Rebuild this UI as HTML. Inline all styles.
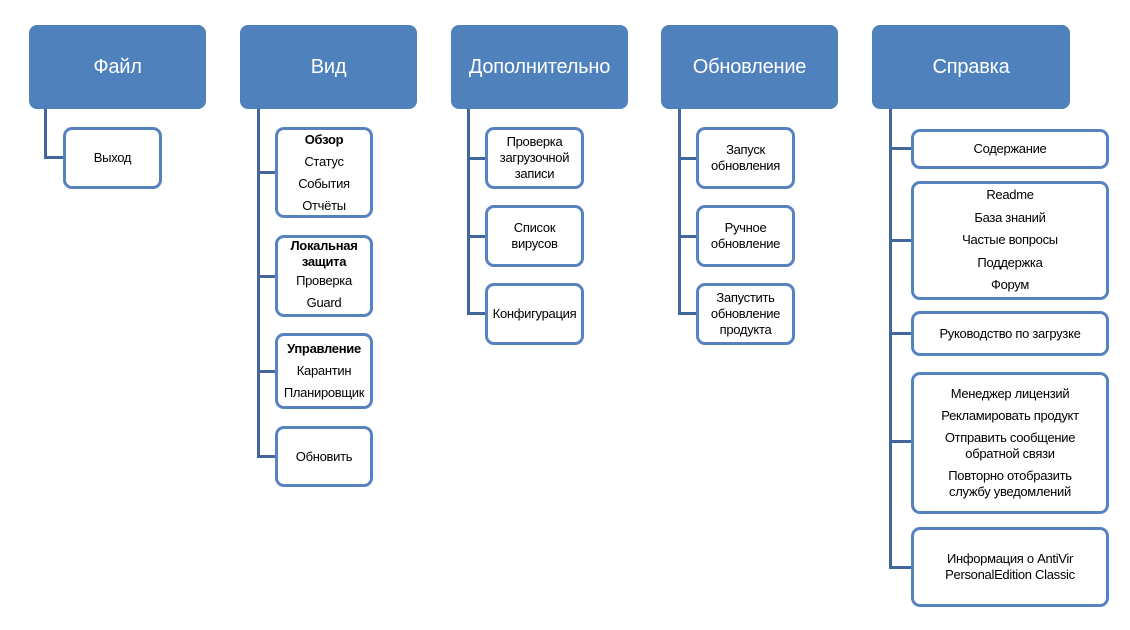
<!DOCTYPE html>
<html><head><meta charset="utf-8"><style>
body{margin:0;width:1130px;height:630px;background:#fff;position:relative;overflow:hidden;font-family:"Liberation Sans","DejaVu Sans",sans-serif;}
.h{position:absolute;top:25px;height:84px;background:#4F81BD;border-radius:8px;color:#fff;font-size:20px;display:flex;align-items:center;justify-content:center;letter-spacing:-0.2px}
.b{position:absolute;box-sizing:border-box;border:3px solid #5683C0;border-radius:9px;background:#fff;display:flex;flex-direction:column;align-items:center;justify-content:center;text-align:center;font-size:13px;color:#000;letter-spacing:-0.3px;line-height:16px}
.b p{margin:3px 0}
.l{position:absolute;background:#41679C}
b{font-weight:bold}
</style></head><body>
<div class="h" style="left:29px;width:177px">Файл</div>
<div class="h" style="left:240px;width:177px">Вид</div>
<div class="h" style="left:451px;width:177px">Дополнительно</div>
<div class="h" style="left:661px;width:177px">Обновление</div>
<div class="h" style="left:872px;width:198px">Справка</div>

<div class="l" style="left:44px;top:109px;width:3px;height:50px"></div>
<div class="l" style="left:44px;top:156px;width:20px;height:3px"></div>
<div class="b" style="left:63px;top:127px;width:99px;height:62px">Выход</div>

<div class="l" style="left:257px;top:109px;width:3px;height:349px"></div>
<div class="l" style="left:257px;top:171px;width:20px;height:3px"></div>
<div class="l" style="left:257px;top:275px;width:20px;height:3px"></div>
<div class="l" style="left:257px;top:370px;width:20px;height:3px"></div>
<div class="l" style="left:257px;top:455px;width:20px;height:3px"></div>
<div class="b" style="left:275px;top:127px;width:98px;height:91px;line-height:22px"><b>Обзор</b>Статус<br>События<br>Отчёты</div>
<div class="b" style="left:275px;top:235px;width:98px;height:82px"><b>Локальная<br>защита</b><span style="line-height:22px">Проверка<br>Guard</span></div>
<div class="b" style="left:275px;top:333px;width:98px;height:76px;line-height:22px"><b>Управление</b>Карантин<br>Планировщик</div>
<div class="b" style="left:275px;top:426px;width:98px;height:61px">Обновить</div>

<div class="l" style="left:467px;top:109px;width:3px;height:206px"></div>
<div class="l" style="left:467px;top:157px;width:20px;height:3px"></div>
<div class="l" style="left:467px;top:235px;width:20px;height:3px"></div>
<div class="l" style="left:467px;top:312px;width:20px;height:3px"></div>
<div class="b" style="left:485px;top:127px;width:99px;height:62px">Проверка<br>загрузочной<br>записи</div>
<div class="b" style="left:485px;top:205px;width:99px;height:62px">Список<br>вирусов</div>
<div class="b" style="left:485px;top:283px;width:99px;height:62px">Конфигурация</div>

<div class="l" style="left:678px;top:109px;width:3px;height:206px"></div>
<div class="l" style="left:678px;top:157px;width:20px;height:3px"></div>
<div class="l" style="left:678px;top:235px;width:20px;height:3px"></div>
<div class="l" style="left:678px;top:312px;width:20px;height:3px"></div>
<div class="b" style="left:696px;top:127px;width:99px;height:62px">Запуск<br>обновления</div>
<div class="b" style="left:696px;top:205px;width:99px;height:62px">Ручное<br>обновление</div>
<div class="b" style="left:696px;top:283px;width:99px;height:62px">Запустить<br>обновление<br>продукта</div>

<div class="l" style="left:889px;top:109px;width:3px;height:460px"></div>
<div class="l" style="left:889px;top:147px;width:24px;height:3px"></div>
<div class="l" style="left:889px;top:239px;width:24px;height:3px"></div>
<div class="l" style="left:889px;top:332px;width:24px;height:3px"></div>
<div class="l" style="left:889px;top:440px;width:24px;height:3px"></div>
<div class="l" style="left:889px;top:566px;width:24px;height:3px"></div>
<div class="b" style="left:911px;top:129px;width:198px;height:40px">Содержание</div>
<div class="b" style="left:911px;top:181px;width:198px;height:119px;line-height:22.5px">Readme<br>База знаний<br>Частые вопросы<br>Поддержка<br>Форум</div>
<div class="b" style="left:911px;top:311px;width:198px;height:45px">Руководство по загрузке</div>
<div class="b" style="left:911px;top:372px;width:198px;height:142px"><p>Менеджер лицензий</p><p>Рекламировать продукт</p><p>Отправить сообщение<br>обратной связи</p><p>Повторно отобразить<br>службу уведомлений</p></div>
<div class="b" style="left:911px;top:527px;width:198px;height:80px">Информация о AntiVir<br>PersonalEdition Classic</div>
</body></html>
